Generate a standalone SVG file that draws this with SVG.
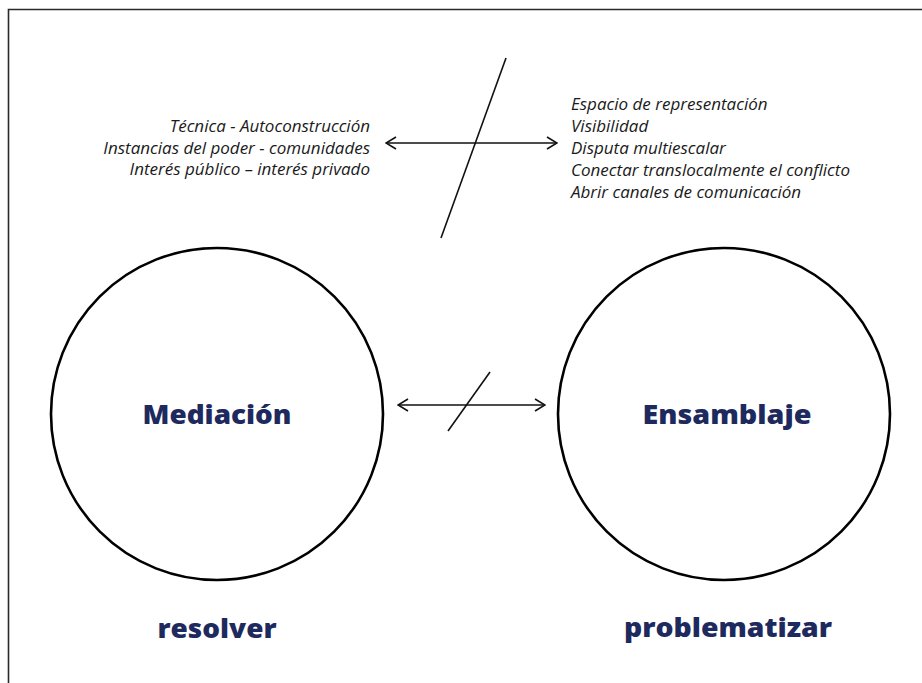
<svg xmlns="http://www.w3.org/2000/svg" width="922" height="683" viewBox="0 0 922 683">
<defs>
<style>
.it{font-family:"Open Sans","DejaVu Sans",sans-serif;font-style:italic;font-size:17px;fill:#1a1a1a}
.lb{font-family:"Open Sans","DejaVu Sans",sans-serif;font-weight:800;fill:#1e2a5e;text-anchor:middle}
.ln{stroke:#111;stroke-width:1.6;fill:none}
.node{fill:#fff;stroke:#000;stroke-width:2.6}
</style>
<marker id="ah" viewBox="0 0 12 14" refX="11" refY="7" markerWidth="12" markerHeight="14" markerUnits="userSpaceOnUse" orient="auto-start-reverse">
<path d="M1,1 L11,7 L1,13" fill="none" stroke="#111" stroke-width="1.6"/>
</marker>
</defs>
<rect width="922" height="683" fill="#fff"/>
<path d="M8.5,683 V9.5 H922" fill="none" stroke="#2a2a2a" stroke-width="1.6"/>
<g id="mediacion">
<circle class="node" cx="217" cy="414" r="166"/>
<text class="lb" x="217" y="424" font-size="27" textLength="149" lengthAdjust="spacingAndGlyphs">Mediación</text>
</g>
<g id="ensamblaje">
<circle class="node" cx="724" cy="414" r="166"/>
<text class="lb" x="727" y="424" font-size="27" textLength="169" lengthAdjust="spacingAndGlyphs">Ensamblaje</text>
</g>
<g id="resolver">
<text class="lb" x="217" y="638" font-size="27" textLength="119" lengthAdjust="spacingAndGlyphs">resolver</text>
</g>
<g id="problematizar">
<text class="lb" x="728" y="637" font-size="27" textLength="208" lengthAdjust="spacingAndGlyphs">problematizar</text>
</g>
<g id="left-list">
<text class="it" x="370" y="132" text-anchor="end">Técnica - Autoconstrucción</text>
<text class="it" x="370" y="153.5" text-anchor="end">Instancias del poder - comunidades</text>
<text class="it" x="370" y="175" text-anchor="end">Interés público – interés privado</text>
</g>
<g id="right-list">
<text class="it" x="571" y="110">Espacio de representación</text>
<text class="it" x="571" y="132">Visibilidad</text>
<text class="it" x="571" y="154">Disputa multiescalar</text>
<text class="it" x="571" y="176">Conectar translocalmente el conflicto</text>
<text class="it" x="571" y="198">Abrir canales de comunicación</text>
</g>
<g id="connectors">
<line class="ln" x1="386" y1="143" x2="557" y2="143" marker-start="url(#ah)" marker-end="url(#ah)"/>
<line class="ln" x1="506" y1="58" x2="441" y2="238"/>
<line class="ln" x1="398" y1="405" x2="545" y2="405" marker-start="url(#ah)" marker-end="url(#ah)"/>
<line class="ln" x1="490" y1="372" x2="448" y2="431"/>
</g>
</svg>
